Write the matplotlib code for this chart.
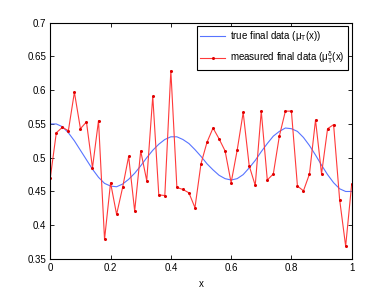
import matplotlib
matplotlib.use("Agg")
import matplotlib.pyplot as plt
import numpy as np

# x grid of the measurements (step 0.02)
x_vals = np.round(np.arange(51) * 0.02, 2)

true_data = [
    0.550, 0.550, 0.546, 0.537, 0.525, 0.511, 0.497, 0.483, 0.471, 0.462,
    0.458, 0.457, 0.461, 0.468, 0.477, 0.488, 0.500, 0.511, 0.520, 0.527,
    0.531, 0.531, 0.527, 0.521, 0.512, 0.502, 0.491, 0.482, 0.474, 0.469,
    0.467, 0.469, 0.475, 0.485, 0.496, 0.509, 0.521, 0.532, 0.539, 0.544,
    0.543, 0.539, 0.530, 0.518, 0.504, 0.489, 0.475, 0.463, 0.454, 0.450,
    0.450,
]
measured_data = [
    0.470, 0.537, 0.545, 0.540, 0.597, 0.543, 0.553, 0.485, 0.555, 0.379,
    0.463, 0.416, 0.456, 0.502, 0.421, 0.510, 0.466, 0.591, 0.445, 0.444,
    0.629, 0.456, 0.453, 0.448, 0.426, 0.491, 0.523, 0.544, 0.528, 0.510,
    0.463, 0.511, 0.567, 0.488, 0.459, 0.569, 0.467, 0.476, 0.532, 0.569,
    0.569, 0.458, 0.451, 0.476, 0.556, 0.476, 0.543, 0.549, 0.438, 0.369,
    0.461,
]
x_ticks = [0, 0.2, 0.4, 0.6, 0.8, 1]
x_ticklabels = ["0", "0.2", "0.4", "0.6", "0.8", "1"]
y_ticks = [0.35, 0.4, 0.45, 0.5, 0.55, 0.6, 0.65, 0.7]
y_ticklabels = ["0.35", "0.4", "0.45", "0.5", "0.55", "0.6", "0.65", "0.7"]

plt.rcParams["font.family"] = ["Liberation Sans", "DejaVu Sans"]
plt.rcParams["mathtext.fontset"] = "custom"
plt.rcParams["mathtext.rm"] = "Liberation Sans"
plt.rcParams["mathtext.it"] = "Liberation Sans"

fig = plt.figure(figsize=(3.88, 2.92), dpi=100)
ax = fig.add_axes([0.1296, 0.113, 0.7768, 0.8093])

ax.plot(x_vals, true_data, color="#5874ff", lw=0.8, label=r"true final data ($\mu_T(x)$)")
ax.plot(x_vals, measured_data, color="#ff3a3a", lw=0.8, marker="o", ms=1.2,
        mec="#e00000", mfc="#e00000", label=r"measured final data ($\mu_T^\delta(x)$")

ax.set_xlim(0, 1)
ax.set_ylim(0.35, 0.7)
ax.set_xticks(x_ticks)
ax.set_xticklabels(x_ticklabels)
ax.set_yticks(y_ticks)
ax.set_yticklabels(y_ticklabels)
ax.tick_params(direction="in", length=3, width=0.6, labelsize=7, top=True, right=True, pad=3)
for sp in ax.spines.values():
    sp.set_linewidth(0.8)
ax.set_xlabel("x", fontsize=7, labelpad=4)

leg = ax.legend(loc="upper right", fontsize=7, handlelength=2.6, borderaxespad=0.35,
                labelspacing=0.6, handletextpad=0.5, borderpad=0.35, fancybox=False,
                framealpha=1, edgecolor="black")
leg.get_frame().set_linewidth(0.8)

fig.savefig("out.png", dpi=100)
